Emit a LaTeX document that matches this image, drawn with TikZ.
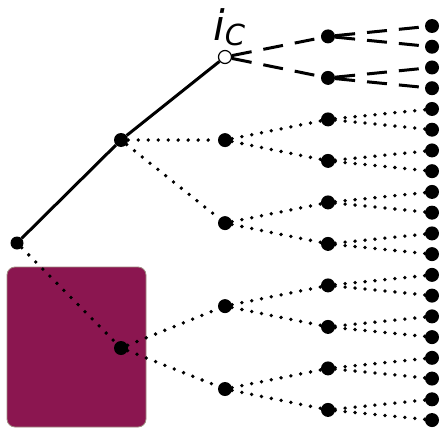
\documentclass[tikz,border=0pt]{standalone}
\usepackage{fontspec}
\setmainfont{DejaVu Sans}
\definecolor{boxfill}{RGB}{139,22,80}
\definecolor{boxline}{RGB}{160,140,130}
\begin{document}
\begin{tikzpicture}[x=1pt,y=-1pt,
 dot/.style={circle,fill=black,inner sep=0pt,minimum size=14pt},
 opendot/.style={circle,draw=black,fill=white,line width=1.2pt,inner sep=0pt,minimum size=13pt},
 solidedge/.style={line width=3pt},
 dashededge/.style={line width=3pt,dash pattern=on 20pt off 12pt},
 dottededge/.style={line width=3.8pt,line cap=round,dash pattern=on 0pt off 10pt},
]
\useasboundingbox (0,0) rectangle (441,428);
\draw[boxline,fill=boxfill,line width=0.8pt,rounded corners=8pt] (7,267) rectangle (146,427);
\node[dot,minimum size=13pt] (r) at (17,243) {};
\node[dot] (a) at (121,140) {};
\node[dot] (b) at (121,348) {};
\node[opendot] (c1) at (225,57) {};
\foreach \i/\y in {2/140.1,3/223.1,4/306.1,5/389} \node[dot] (c\i) at (225,\y) {};
\foreach \i in {1,...,10} \node[dot] (d\i) at (328,{36.4+(\i-1)*41.5}) {};
\foreach \i in {1,...,20} \node[dot] (e\i) at (432,{26+(\i-1)*20.74}) {};
\node[anchor=base west,inner sep=0pt,font=\fontsize{42}{42}\selectfont\itshape] (lbl) at (213,41) {i\raisebox{-5pt}{\fontsize{29}{29}\selectfont C}};
% edges
\draw[solidedge] (r) -- (a);
\draw[solidedge] (a) -- (c1);
\draw[dottededge] (r) -- (b);
\draw[dottededge] (a) -- (c2);
\draw[dottededge] (a) -- (c3);
\draw[dottededge] (b) -- (c4);
\draw[dottededge] (b) -- (c5);
\draw[dashededge] (c1) -- (d1);
\draw[dashededge] (c1) -- (d2);
\draw[dashededge] (d1) -- (e1);
\draw[dashededge] (d1) -- (e2);
\draw[dashededge] (d2) -- (e3);
\draw[dashededge] (d2) -- (e4);
\foreach \p/\q in {2/3,2/4,3/5,3/6,4/7,4/8,5/9,5/10}
  \draw[dottededge] (c\p) -- (d\q);
\foreach \q in {3,...,10}{
  \pgfmathtruncatemacro{\ea}{2*\q-1}
  \pgfmathtruncatemacro{\eb}{2*\q}
  \draw[dottededge] (d\q) -- (e\ea);
  \draw[dottededge] (d\q) -- (e\eb);
}
\end{tikzpicture}
\end{document}
